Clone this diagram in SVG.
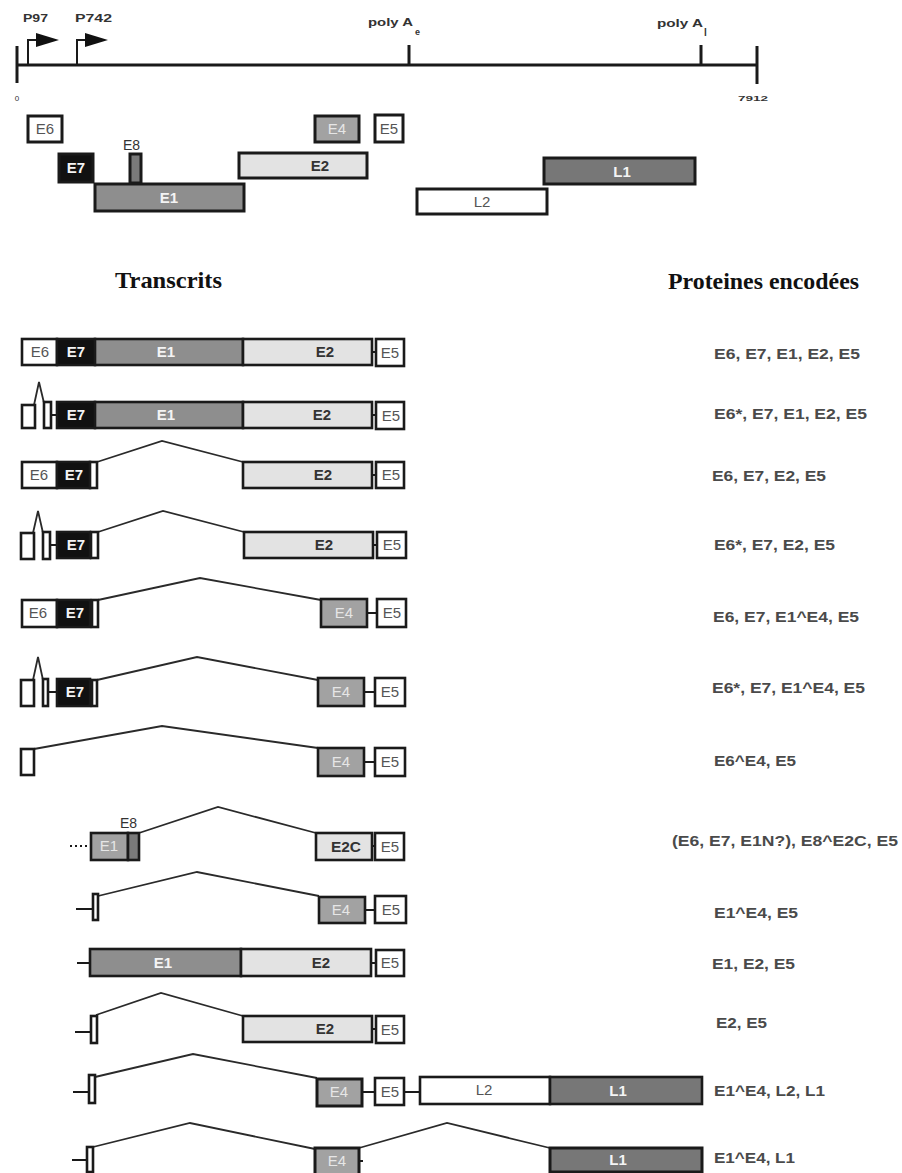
<svg xmlns="http://www.w3.org/2000/svg" width="902" height="1173" viewBox="0 0 902 1173">
<style>
.ln{stroke:#1a1a1a;stroke-width:3;fill:none}
.sp{stroke:#2a2a2a;stroke-width:1.8;fill:none;stroke-linejoin:miter}
.cn{stroke:#1a1a1a;stroke-width:2;fill:none}
.b{stroke:#1a1a1a;stroke-width:2.6}
.bt{stroke:#1a1a1a;stroke-width:3}
.w{fill:#ffffff}
.k{fill:#111111}
.g1{fill:#8e8e8e}
.g2{fill:#e3e3e3}
.g4{fill:#a2a2a2}
.g8{fill:#7a7a7a}
.gl{fill:#777777}
.t{font-family:"Liberation Sans",Arial,sans-serif;font-size:15px;text-anchor:middle}
.td{fill:#555555}
.tb{fill:#333333;font-weight:bold}
.tw{fill:#f4f4f4;font-weight:bold}
.tl{fill:#e6e6e6}
.sm{font-family:"Liberation Sans",Arial,sans-serif;fill:#333333}
.hd{font-family:"Liberation Serif","Times New Roman",serif;font-size:23px;font-weight:bold;fill:#111111}
.lab{font-family:"Liberation Sans",Arial,sans-serif;font-size:15px;font-weight:bold;fill:#4a4a4a}
</style>

<g id="genome-map">
  <line class="ln" x1="17" y1="65" x2="757" y2="65"/>
  <line class="ln" x1="17" y1="46" x2="17" y2="83"/>
  <line class="ln" x1="757" y1="46" x2="757" y2="84"/>
  <line class="ln" x1="409" y1="45" x2="409" y2="65"/>
  <line class="ln" x1="701" y1="45" x2="701" y2="65"/>
  <text class="sm" x="17" y="101" font-size="8" text-anchor="middle">0</text>
  <text class="sm" x="753" y="101" font-size="8" font-weight="bold" text-anchor="middle" textLength="30" lengthAdjust="spacingAndGlyphs">7912</text>
</g>

<g id="promoter-P97">
  <path class="cn" d="M28 65 V40 H38" stroke-width="2.5"/>
  <polygon points="36,33 59,40 36,47" fill="#111"/>
  <text class="sm" x="23" y="22" font-size="11" font-weight="bold" textLength="25" lengthAdjust="spacingAndGlyphs">P97</text>
</g>
<g id="promoter-P742">
  <path class="cn" d="M77 65 V40 H87" stroke-width="2.5"/>
  <polygon points="85,33 108,40 85,47" fill="#111"/>
  <text class="sm" x="75" y="22" font-size="11" font-weight="bold" textLength="37" lengthAdjust="spacingAndGlyphs">P742</text>
</g>
<g id="polyA-early">
  <text class="sm" x="368" y="26" font-size="11" font-weight="bold" fill="#444" textLength="45" lengthAdjust="spacingAndGlyphs">poly A</text>
  <text class="sm" x="415" y="35" font-size="9" font-weight="bold">e</text>
</g>
<g id="polyA-late">
  <text class="sm" x="657" y="27" font-size="11" font-weight="bold" fill="#444" textLength="46" lengthAdjust="spacingAndGlyphs">poly A</text>
  <text class="sm" x="704" y="36" font-size="10" font-weight="bold" fill="#333">l</text>
</g>

<g id="orf-E6"><rect class="bt w" x="28" y="116" width="34" height="26"/><text class="t td" x="45" y="134">E6</text></g>
<g id="orf-E7"><rect class="bt k" x="59" y="154" width="34" height="28"/><text class="t tw" x="76" y="173">E7</text></g>
<g id="orf-E1"><rect class="bt g1" x="95" y="184" width="149" height="27"/><text class="t tw" x="169" y="203">E1</text></g>
<g id="orf-E8"><rect class="bt g8" x="130" y="154" width="11" height="29"/><text class="sm" x="123" y="150" font-size="14" fill="#666">E8</text></g>
<g id="orf-E2"><rect class="bt g2" x="239" y="153" width="128" height="25"/><text class="t tb" x="320" y="171">E2</text></g>
<g id="orf-E4"><rect class="bt g4" x="315" y="116" width="44" height="26"/><text class="t tl" x="337" y="134">E4</text></g>
<g id="orf-E5"><rect class="bt w" x="375" y="115" width="28" height="27"/><text class="t td" x="389" y="134">E5</text></g>
<g id="orf-L1"><rect class="bt gl" x="544" y="158" width="151" height="26"/><text class="t tw" x="622" y="177">L1</text></g>
<g id="orf-L2"><rect class="bt w" x="417" y="189" width="130" height="25"/><text class="t td" x="482" y="207">L2</text></g>

<g id="headers">
  <text class="hd" x="115" y="288" textLength="107" lengthAdjust="spacingAndGlyphs">Transcrits</text>
  <text class="hd" x="668" y="289" textLength="191" lengthAdjust="spacingAndGlyphs">Proteines encodées</text>
</g>

<g id="connectors">
  <line class="cn" x1="372" y1="352" x2="376" y2="352"/>
  <polyline class="sp" points="34,405 39,382 44,403"/>
  <line class="cn" x1="51" y1="415" x2="57" y2="415"/>
  <line class="cn" x1="372" y1="415" x2="376" y2="415"/>
  <polyline class="sp" points="97,462 162,441 243,462"/>
  <line class="cn" x1="372" y1="475" x2="376" y2="475"/>
  <polyline class="sp" points="33,533 38,511 43,533"/>
  <line class="cn" x1="50" y1="545" x2="57" y2="545"/>
  <polyline class="sp" points="98,532 163,511 244,532"/>
  <line class="cn" x1="373" y1="545" x2="377" y2="545"/>
  <polyline class="sp" points="98,600 200,578 321,600"/>
  <line class="cn" x1="367" y1="613" x2="377" y2="613"/>
  <polyline class="sp" points="33,680 38,657 43,680"/>
  <line class="cn" x1="48" y1="692" x2="57" y2="692"/>
  <polyline class="sp" points="97,680 197,657 318,680"/>
  <line class="cn" x1="364" y1="692" x2="375" y2="692"/>
  <polyline class="sp" points="34,749 162,726 318,748"/>
  <line class="cn" x1="364" y1="762" x2="375" y2="762"/>
  <line class="cn" x1="70" y1="846" x2="91" y2="846" stroke-dasharray="2,3"/>
  <polyline class="sp" points="139,833 218,807 316,833"/>
  <line class="cn" x1="372" y1="846" x2="375" y2="846"/>
  <line class="cn" x1="76" y1="909" x2="93" y2="909" stroke-width="3"/>
  <polyline class="sp" points="98,896 197,872 319,896"/>
  <line class="cn" x1="365" y1="910" x2="375" y2="910"/>
  <line class="cn" x1="77" y1="963" x2="90" y2="963"/>
  <line class="cn" x1="371" y1="963" x2="376" y2="963"/>
  <line class="cn" x1="75" y1="1032" x2="91" y2="1032"/>
  <polyline class="sp" points="96,1015 161,993 243,1016"/>
  <line class="cn" x1="372" y1="1029" x2="376" y2="1029"/>
  <line class="cn" x1="73" y1="1092" x2="89" y2="1092"/>
  <polyline class="sp" points="95,1077 193,1054 317,1078"/>
  <line class="cn" x1="362" y1="1092" x2="375" y2="1092"/>
  <line class="cn" x1="404" y1="1092" x2="420" y2="1092"/>
  <line class="cn" x1="72" y1="1160" x2="87" y2="1160"/>
  <polyline class="sp" points="93,1147 190,1123 315,1149"/>
  <line class="cn" x1="359" y1="1161" x2="363" y2="1161"/>
  <polyline class="sp" points="359,1148 447,1123 550,1148"/>
</g>

<g id="transcript-1">
  <rect class="b w" x="22" y="339" width="35" height="26"/><text class="t td" x="40" y="357">E6</text>
  <rect class="b k" x="57" y="339" width="38" height="26"/><text class="t tw" x="76" y="357">E7</text>
  <rect class="b g1" x="95" y="339" width="148" height="26"/><text class="t tw" x="166" y="357">E1</text>
  <rect class="b g2" x="243" y="339" width="129" height="26"/><text class="t tb" x="325" y="357">E2</text>
  <rect class="b w" x="376" y="339" width="28" height="27"/><text class="t td" x="390" y="358">E5</text>
</g>
<g id="transcript-2">
  <rect class="b w" x="22" y="405" width="13" height="23"/>
  <rect class="b w" x="44" y="402" width="7" height="26"/>
  <rect class="b k" x="57" y="402" width="38" height="26"/><text class="t tw" x="76" y="420">E7</text>
  <rect class="b g1" x="95" y="402" width="148" height="26"/><text class="t tw" x="166" y="420">E1</text>
  <rect class="b g2" x="243" y="402" width="129" height="26"/><text class="t tb" x="322" y="420">E2</text>
  <rect class="b w" x="376" y="402" width="28" height="27"/><text class="t td" x="391" y="421">E5</text>
</g>
<g id="transcript-3">
  <rect class="b w" x="22" y="462" width="35" height="26"/><text class="t td" x="39" y="480">E6</text>
  <rect class="b k" x="57" y="462" width="33" height="26"/><text class="t tw" x="74" y="480">E7</text>
  <rect class="b w" x="90" y="462" width="7" height="26"/>
  <rect class="b g2" x="243" y="462" width="129" height="26"/><text class="t tb" x="323" y="480">E2</text>
  <rect class="b w" x="376" y="462" width="28" height="26"/><text class="t td" x="391" y="480">E5</text>
</g>
<g id="transcript-4">
  <rect class="b w" x="21" y="533" width="13" height="26"/>
  <rect class="b w" x="43" y="532" width="7" height="27"/>
  <rect class="b k" x="57" y="532" width="33" height="26"/><text class="t tw" x="76" y="550">E7</text>
  <rect class="b w" x="91" y="532" width="7" height="26"/>
  <rect class="b g2" x="244" y="532" width="129" height="26"/><text class="t tb" x="324" y="550">E2</text>
  <rect class="b w" x="377" y="532" width="29" height="26"/><text class="t td" x="392" y="550">E5</text>
</g>
<g id="transcript-5">
  <rect class="b w" x="22" y="600" width="35" height="27"/><text class="t td" x="38" y="618">E6</text>
  <rect class="b k" x="57" y="600" width="33" height="27"/><text class="t tw" x="75" y="618">E7</text>
  <rect class="b w" x="92" y="600" width="6" height="27"/>
  <rect class="b g4" x="321" y="599" width="46" height="28"/><text class="t tl" x="344" y="618">E4</text>
  <rect class="b w" x="377" y="599" width="29" height="28"/><text class="t td" x="392" y="618">E5</text>
</g>
<g id="transcript-6">
  <rect class="b w" x="21" y="680" width="13" height="26"/>
  <rect class="b w" x="43" y="679" width="5" height="27"/>
  <rect class="b k" x="57" y="679" width="33" height="27"/><text class="t tw" x="75" y="697">E7</text>
  <rect class="b w" x="92" y="680" width="5" height="26"/>
  <rect class="b g4" x="318" y="678" width="46" height="28"/><text class="t tl" x="341" y="697">E4</text>
  <rect class="b w" x="375" y="678" width="30" height="28"/><text class="t td" x="390" y="697">E5</text>
</g>
<g id="transcript-7">
  <rect class="b w" x="21" y="749" width="13" height="26"/>
  <rect class="b g4" x="318" y="748" width="46" height="28"/><text class="t tl" x="341" y="767">E4</text>
  <rect class="b w" x="375" y="748" width="30" height="28"/><text class="t td" x="390" y="767">E5</text>
</g>
<g id="transcript-8">
  <rect class="b g4" x="91" y="833" width="37" height="27"/><text class="t tl" x="109" y="851">E1</text>
  <rect class="b g8" x="128" y="833" width="11" height="27"/>
  <text class="sm" x="120" y="828" font-size="14" fill="#555">E8</text>
  <rect class="b g2" x="316" y="833" width="56" height="27"/><text class="t tb" x="346" y="852" textLength="30" lengthAdjust="spacingAndGlyphs">E2C</text>
  <rect class="b w" x="375" y="833" width="29" height="27"/><text class="t td" x="390" y="852">E5</text>
</g>
<g id="transcript-9">
  <rect class="b w" x="93" y="894" width="5" height="26"/>
  <rect class="b g4" x="319" y="897" width="46" height="26"/><text class="t tl" x="341" y="915">E4</text>
  <rect class="b w" x="375" y="896" width="31" height="27"/><text class="t td" x="391" y="915">E5</text>
</g>
<g id="transcript-10">
  <rect class="b g1" x="90" y="949" width="151" height="27"/><text class="t tw" x="163" y="968">E1</text>
  <rect class="b g2" x="241" y="949" width="130" height="27"/><text class="t tb" x="321" y="968">E2</text>
  <rect class="b w" x="376" y="950" width="28" height="26"/><text class="t td" x="390" y="968">E5</text>
</g>
<g id="transcript-11">
  <rect class="b w" x="91" y="1016" width="6" height="27"/>
  <rect class="b g2" x="243" y="1016" width="129" height="26"/><text class="t tb" x="325" y="1034">E2</text>
  <rect class="b w" x="376" y="1016" width="28" height="27"/><text class="t td" x="390" y="1035">E5</text>
</g>
<g id="transcript-12">
  <rect class="b w" x="89" y="1075" width="6" height="28"/>
  <rect class="bt g4" x="317" y="1079" width="45" height="27"/><text class="t tl" x="339" y="1097">E4</text>
  <rect class="b w" x="375" y="1078" width="29" height="27"/><text class="t td" x="390" y="1097">E5</text>
  <rect class="b w" x="420" y="1077" width="130" height="27"/><text class="t td" x="484" y="1095">L2</text>
  <rect class="b gl" x="550" y="1077" width="152" height="27"/><text class="t tw" x="618" y="1096">L1</text>
</g>
<g id="transcript-13">
  <rect class="b w" x="87" y="1147" width="6" height="25"/>
  <rect class="bt g4" x="315" y="1148" width="44" height="27"/><text class="t tl" x="337" y="1166">E4</text>
  <rect class="bt gl" x="550" y="1148" width="152" height="24"/><text class="t tw" x="618" y="1165">L1</text>
</g>

<g id="proteins">
  <text class="lab" x="714" y="359" textLength="146" lengthAdjust="spacingAndGlyphs">E6, E7, E1, E2, E5</text>
  <text class="lab" x="714" y="419" textLength="153" lengthAdjust="spacingAndGlyphs">E6*, E7, E1, E2, E5</text>
  <text class="lab" x="712" y="481" textLength="114" lengthAdjust="spacingAndGlyphs">E6, E7, E2, E5</text>
  <text class="lab" x="714" y="550" textLength="121" lengthAdjust="spacingAndGlyphs">E6*, E7, E2, E5</text>
  <text class="lab" x="713" y="622" textLength="146" lengthAdjust="spacingAndGlyphs">E6, E7, E1^E4, E5</text>
  <text class="lab" x="712" y="693" textLength="153" lengthAdjust="spacingAndGlyphs">E6*, E7, E1^E4, E5</text>
  <text class="lab" x="714" y="766" textLength="82" lengthAdjust="spacingAndGlyphs">E6^E4, E5</text>
  <text class="lab" x="672" y="846" textLength="226" lengthAdjust="spacingAndGlyphs">(E6, E7, E1N?), E8^E2C, E5</text>
  <text class="lab" x="714" y="918" textLength="84" lengthAdjust="spacingAndGlyphs">E1^E4, E5</text>
  <text class="lab" x="712" y="969" textLength="83" lengthAdjust="spacingAndGlyphs">E1, E2, E5</text>
  <text class="lab" x="716" y="1028" textLength="51" lengthAdjust="spacingAndGlyphs">E2, E5</text>
  <text class="lab" x="714" y="1096" textLength="111" lengthAdjust="spacingAndGlyphs">E1^E4, L2, L1</text>
  <text class="lab" x="714" y="1163" textLength="81" lengthAdjust="spacingAndGlyphs">E1^E4, L1</text>
</g>
</svg>
